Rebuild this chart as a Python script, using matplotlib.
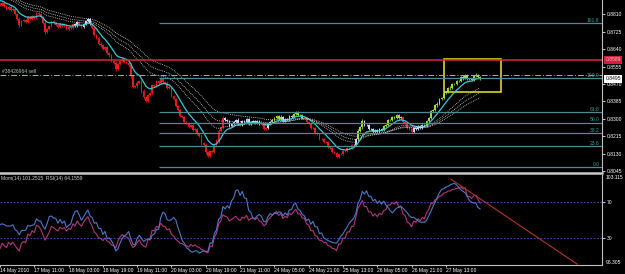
import numpy as np
import pandas as pd
import matplotlib
matplotlib.use("Agg")
import matplotlib.pyplot as plt
import matplotlib.transforms as mtrans
from matplotlib.patches import Rectangle

plt.rcParams['font.family'] = ['Liberation Sans', 'DejaVu Sans']

# H1 bars, 14 May 2010 .. 28 May 2010, closes in pips (x 0.0001)
first_bar = -20
close_pips = [
    8929, 8919, 8924, 8939, 8934, 8924, 8914, 8919, 8909, 8904,
    8914, 8900, 8895, 8904, 8890, 8885, 8875, 8880, 8870, 8860,
    8856, 8865, 8851, 8836, 8846, 8831, 8836, 8812, 8787, 8758,
    8777, 8782, 8773, 8797, 8787, 8802, 8792, 8816, 8812, 8797,
    8768, 8724, 8738, 8753, 8777, 8768, 8758, 8748, 8763, 8753,
    8758, 8738, 8748, 8743, 8763, 8753, 8773, 8758, 8748, 8763,
    8777, 8787, 8763, 8743, 8709, 8694, 8665, 8660, 8641, 8650,
    8621, 8611, 8582, 8572, 8543, 8567, 8582, 8592, 8577, 8572,
    8562, 8509, 8455, 8460, 8475, 8484, 8435, 8406, 8387, 8416,
    8426, 8465, 8460, 8484, 8475, 8499, 8479, 8475, 8450, 8455,
    8411, 8396, 8362, 8343, 8313, 8308, 8284, 8279, 8260, 8269,
    8245, 8250, 8225, 8216, 8181, 8172, 8137, 8118, 8142, 8137,
    8172, 8191, 8240, 8260, 8304, 8294, 8289, 8264, 8274, 8284,
    8294, 8279, 8269, 8289, 8284, 8299, 8274, 8284, 8289, 8279,
    8289, 8274, 8269, 8250, 8255, 8274, 8284, 8294, 8304, 8313,
    8299, 8308, 8289, 8299, 8294, 8313, 8308, 8323, 8333, 8318,
    8318, 8304, 8304, 8284, 8279, 8255, 8255, 8230, 8225, 8201,
    8201, 8186, 8186, 8162, 8157, 8137, 8133, 8113, 8128, 8128,
    8142, 8142, 8157, 8157, 8172, 8172, 8201, 8240, 8260, 8289,
    8269, 8269, 8250, 8250, 8235, 8245, 8235, 8250, 8245, 8264,
    8269, 8294, 8294, 8308, 8304, 8318, 8304, 8308, 8284, 8279,
    8255, 8250, 8235, 8255, 8250, 8264, 8255, 8269, 8264, 8289,
    8304, 8338, 8343, 8367, 8372, 8396, 8401, 8426, 8431, 8450,
    8450, 8470, 8470, 8484, 8484, 8504, 8499, 8514, 8494, 8494,
    8489, 8509, 8514, 8504, 8495,
]
wick_pips = [
    4, 6, 3, 5, 7, 4, 3, 6, 5, 4, 3, 5, 6, 4, 3, 5, 4, 6, 3, 5,
    4, 5, 3, 6, 4, 5, 3, 7, 6, 8, 5, 4, 6, 3, 5, 4, 6, 5, 4, 3,
    6, 8, 5, 4, 6, 3, 5, 4, 3, 5, 4, 6, 3, 5, 4, 6, 5, 3, 4, 5,
    4, 6, 5, 7, 5, 6, 4, 8, 5, 6, 4, 7, 6, 5, 8, 6, 4, 5, 3, 6,
    7, 9, 6, 5, 8, 4, 7, 9, 6, 5, 6, 4, 7, 5, 4, 6, 5, 4, 7, 5,
    6, 5, 7, 4, 6, 5, 4, 6, 5, 4, 7, 5, 6, 4, 8, 6, 9, 7, 5, 6,
    6, 8, 9, 6, 10, 5, 6, 4, 5, 6, 4, 8, 5, 4, 6, 5, 4, 6, 3, 5,
    4, 5, 6, 4, 7, 5, 4, 6, 5, 4, 6, 8, 5, 4, 5, 6, 4, 5, 7, 4,
    5, 4, 6, 4, 5, 6, 4, 5, 6, 4, 5, 6, 4, 7, 5, 4, 6, 5, 4, 6,
    5, 4, 6, 4, 5, 7, 6, 8, 5, 9, 5, 4, 6, 4, 5, 6, 4, 5, 6, 4,
    5, 6, 4, 5, 6, 7, 4, 5, 6, 4, 5, 6, 5, 4, 6, 5, 4, 6, 5, 4,
    6, 7, 5, 6, 8, 5, 6, 7, 5, 6, 8, 5, 6, 7, 5, 6, 8, 5, 6, 7,
    5, 6, 7, 5, 4,
]

# trend colouring of the bars: (first bar of the run, state)
bar_state = [(-20, 'red'), (35, 'white'), (37, 'red'), (39, 'white'), (43, 'red'),
             (105, 'white'), (112, 'red'), (113, 'white'), (122, 'red'), (125, 'white'),
             (127, 'green'), (132, 'white'), (137, 'green'), (142, 'red'), (165, 'white'),
             (167, 'green'), (170, 'white'), (179, 'green'), (188, 'red'), (193, 'white'),
             (198, 'green')]
state_colours = {'red': '#e11c1c', 'white': '#c9dcff', 'green': '#98e03a'}

time_ticks = list(range(0, 209, 16))
time_labels = ['14 May 2010', '17 May 11:00', '18 May 03:00', '18 May 19:00',
               '19 May 11:00', '20 May 03:00', '20 May 19:00', '21 May 11:00',
               '24 May 05:00', '24 May 21:00', '25 May 13:00', '26 May 05:00',
               '26 May 21:00', '27 May 13:00']

price_ticks = [0.8045, 0.8130, 0.8215, 0.8300, 0.8385, 0.8470, 0.8555, 0.8640, 0.8725, 0.8810]

fib_low, fib_high = 0.8064, 0.8499
fib_levels = [0.0, 23.6, 38.2, 50.0, 61.8, 100.0, 161.8]
fib_start = 74.4

resistance = 0.8589
order_price = 0.8515
order_label = '#38426964 sell'
bid = 0.8495

box_bars = (207.0, 233.5)
box_prices = (0.8431, 0.8592)

rsi_levels = [70, 30]
mom_lim = (96.305, 103.115)
trend_bars = [210.3, 269.2]
trend_rsi = [95.5, 0.5]

# ---- derived series
bars = np.arange(first_bar, first_bar + len(close_pips))
close = np.array(close_pips) / 10000.0
opn = np.r_[close[0], close[:-1]]
wick = np.array(wick_pips) / 10000.0
top = np.maximum(opn, close)
bot = np.minimum(opn, close)
high = top + wick
low = bot - wick

cols = []
for b in bars:
    st = 'red'
    for start, s in bar_state:
        if b >= start:
            st = s
    cols.append(state_colours[st])

s = pd.Series(close)
ma_fast = s.ewm(span=9, adjust=False).mean()
ma_slow = [s.ewm(span=n, adjust=False).mean() for n in (24, 32, 42)]

mom = s / s.shift(14) * 100
delta = s.diff()
gain = delta.clip(lower=0).ewm(alpha=1 / 14, adjust=False).mean()
loss = (-delta.clip(upper=0)).ewm(alpha=1 / 14, adjust=False).mean()
rsi = 100 - 100 / (1 + gain / loss)

# ---- figure
fig = plt.figure(figsize=(6.25, 2.74), dpi=100, facecolor='black')
W = 602 / 625
ax = fig.add_axes([0, 1 - 172 / 274, W, 172 / 274])
axi = fig.add_axes([0, 1 - 264.5 / 274, W, 89.5 / 274], sharex=ax)
axm = axi.twinx()

fs = 3.6
for a in (ax, axi, axm):
    a.set_facecolor('black')
    for sp in a.spines.values():
        sp.set_visible(False)
axm.set_facecolor('none')
ax.spines['right'].set_visible(True)
ax.spines['right'].set_color('#c0c0c0')
axm.spines['right'].set_visible(True)
axm.spines['right'].set_color('#c0c0c0')
axi.spines['bottom'].set_visible(True)
axi.spines['bottom'].set_color('#c0c0c0')

# candles
ax.vlines(bars, low, high, colors=cols, lw=0.6)
ax.bar(bars, np.maximum(top - bot, 0.00006), bottom=bot, width=0.8, color=cols, lw=0)

ax.plot(bars, ma_fast, color='#3fc6d6', lw=0.9)
for m in ma_slow:
    ax.plot(bars, m, color='#d8d8d8', lw=0.6, ls=(0, (1, 1.3)))

xl = ((0 + 3.5) / 2.156, (602 + 3.5) / 2.156)
ax.set_xlim(xl)
ax.set_ylim(0.80398, 0.8880)

# fibonacci
for lv in fib_levels:
    p = fib_low + (fib_high - fib_low) * lv / 100
    ax.hlines(p, fib_start, xl[1], color='#4f8c92', lw=0.9)
    ax.text(xl[1] - 1.2, p + 0.0002, f'{lv:.1f}', color='#3c9c9c', fontsize=fs,
            ha='right', va='bottom')

ax.axhline(resistance, color='#d8283c', lw=1.1)
ax.axhline(order_price, color='#8fbc8f', lw=0.7, ls=(0, (6, 2, 1, 2)))
bt = mtrans.blended_transform_factory(ax.transAxes, ax.transData)
ax.text(2 / 602, order_price + 0.0003, order_label, transform=bt,
        color='#b0c8b0', fontsize=fs, ha='left', va='bottom')

ax.add_patch(Rectangle((box_bars[0], box_prices[0]), box_bars[1] - box_bars[0],
                       box_prices[1] - box_prices[0], fill=False, ec='#f0e626', lw=1.1))

ax.yaxis.tick_right()
ax.set_yticks(price_ticks)
ax.set_yticklabels([f'{p:.4f}' for p in price_ticks])
ax.tick_params(axis='y', colors='#c0c0c0', labelcolor='white', labelsize=fs, length=2, pad=1.5)
ax.tick_params(axis='x', bottom=False, labelbottom=False)

ax.text(1.006, resistance, f'{resistance:.4f}', transform=bt, fontsize=fs, color='#ffb0b8',
        ha='left', va='center', clip_on=False,
        bbox=dict(fc='#d02040', ec='none', boxstyle='square,pad=0.3'))
ax.text(1.006, bid, f'{bid:.4f}', transform=bt, fontsize=fs, color='black',
        ha='left', va='center', clip_on=False,
        bbox=dict(fc='white', ec='none', boxstyle='square,pad=0.25'))

# indicator window
axi.plot(bars, rsi, color='#b0387a', lw=0.8)
for lv in rsi_levels:
    axi.axhline(lv, color='#5a50c0', lw=0.6, ls=(0, (2, 2)))
axi.plot(trend_bars, trend_rsi, color='#b2361e', lw=0.8)
axi.set_ylim(0, 100)
axi.yaxis.tick_right()
axi.set_yticks(rsi_levels)
axi.set_yticklabels([str(v) for v in rsi_levels])
axi.tick_params(axis='y', colors='#c0c0c0', labelcolor='white', labelsize=fs, length=2, pad=1.5)

axm.plot(bars, mom, color='#4f78c8', lw=0.8)
axm.set_ylim(mom_lim)
axm.set_yticks(list(mom_lim)[::-1])
axm.set_yticklabels([f'{v:.3f}' for v in list(mom_lim)[::-1]])
axm.tick_params(axis='y', colors='#c0c0c0', labelcolor='white', labelsize=fs, length=0, pad=2.5)
lbls = axm.get_yticklabels()
lbls[0].set_va('top')
lbls[1].set_va('bottom')

axi.set_xticks(time_ticks)
axi.set_xticklabels(time_labels, ha='left')
axi.tick_params(axis='x', colors='#c0c0c0', labelcolor='white', labelsize=fs, length=1.5, pad=1)

axi.text(0.002, 0.985, 'Mom(14) 101.2515  RSI(14) 64.1559', transform=axi.transAxes,
         color='#d0d0d0', fontsize=fs, ha='left', va='top')

# window separator
fig.add_artist(plt.Line2D([0, W], [1 - 173.3 / 274] * 2, color='#c8c8c8', lw=1.8))

fig.savefig('out.png', dpi=100, facecolor='black')
